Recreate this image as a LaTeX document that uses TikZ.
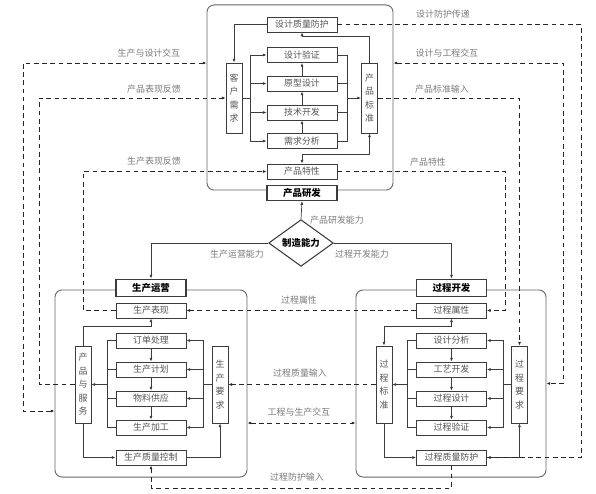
\documentclass[tikz,border=0pt]{standalone}
\usepackage{fontspec}
\setmainfont{Noto Sans CJK SC}
\usetikzlibrary{arrows.meta,shapes.geometric}
\definecolor{bxline}{HTML}{3C3C3C}
\definecolor{bxtext}{HTML}{555555}
\definecolor{lbtext}{HTML}{7A7A7A}

\begin{document}
\begin{tikzpicture}[x=0.85pt,y=-0.85pt,
  box/.style={draw=bxline, line width=0.7pt, fill=white, text=bxtext,
    font=\fontsize{7.6}{9}\selectfont, minimum width=59.5pt, minimum height=12.8pt, inner sep=0pt},
  vbox/.style={box, minimum width=13.6pt, minimum height=65.5pt, align=center,
    font=\fontsize{7.6}{11.5}\selectfont},
  title/.style={box, line width=1pt, text=black, font=\fontsize{8}{9}\bfseries\selectfont,
    minimum height=15pt},
  blk/.style={draw=gray!80!black, line width=0.8pt, rounded corners=6pt, inner sep=0pt},
  ln/.style={draw=bxline, line width=0.6pt},
  arr/.style={ln, -{Latex[length=3.2pt,width=2.6pt]}},
  barr/.style={ln, {Latex[length=3.2pt,width=2.6pt]}-{Latex[length=3.2pt,width=2.6pt]}},
  dln/.style={draw=black!85, line width=0.7pt, dash pattern=on 4pt off 3pt},
  darr/.style={dln, -{Latex[length=3.2pt,width=2.6pt]}},
  dbarr/.style={dln, {Latex[length=3.2pt,width=2.6pt]}-{Latex[length=3.2pt,width=2.6pt]}},
  lbl/.style={text=lbtext, font=\fontsize{7.6}{9}\selectfont, inner sep=0pt}]

  \useasboundingbox (0,0) rectangle (596,494);

  % 三个大框
  \node[blk, minimum width=158.1pt, minimum height=157.3pt] (topblk) at (300,97.5) {};
  \node[blk, minimum width=163.2pt, minimum height=159pt] (lblk) at (151,383.5) {};
  \node[blk, minimum width=161.5pt, minimum height=159pt] (rblk) at (451,383.5) {};

  % 产品研发
  \node[box] (zlfh) at (302,24.5) {设计质量防护};
  \node[box] (sjyz) at (302,55) {设计验证};
  \node[box] (yxsj) at (302,83.5) {原型设计};
  \node[box] (jskf) at (302,112.5) {技术开发};
  \node[box] (xqfx) at (302,141) {需求分析};
  \node[box] (cptx) at (302,171.5) {产品特性};
  \node[title, minimum height=12.8pt] (cpyf) at (302,193) {产品研发};
  \node[vbox, minimum height=59.5pt] (khxq) at (234,98) {客\\户\\需\\求};
  \node[vbox, minimum height=59.5pt] (cpbz) at (369.5,98) {产\\品\\标\\准};

  % 制造能力
  \node[draw=bxline, line width=0.9pt, diamond, fill=white, inner sep=0pt,
    minimum width=55pt, minimum height=31.5pt, font=\fontsize{8}{9}\bfseries\selectfont] (zhnl) at (301,243) {制造能力};

  % 生产运营
  \node[title] (scyy) at (151,288) {生产运营};
  \node[box] (sbxx) at (151,310.5) {生产表现};
  \node[box] (ddcl) at (151,340.5) {订单处理};
  \node[box] (scjh) at (151,369.5) {生产计划};
  \node[box] (wlgy) at (151,398.5) {物料供应};
  \node[box] (scjg) at (151,427.5) {生产加工};
  \node[box] (zlkz) at (151,457.5) {生产质量控制};
  \node[vbox] (cpfw) at (83,384.5) {产\\品\\与\\服\\务};
  \node[vbox] (scyq) at (220,384.5) {生\\产\\要\\求};

  % 过程开发
  \node[title] (gckf) at (451.5,288) {过程开发};
  \node[box] (gcsx) at (451.5,310.5) {过程属性};
  \node[box] (sjfx) at (451.5,340.5) {设计分析};
  \node[box] (gykf) at (451.5,369.5) {工艺开发};
  \node[box] (gcsj) at (451.5,398.5) {过程设计};
  \node[box] (gcyz) at (451.5,427.5) {过程验证};
  \node[box] (gczl) at (451.5,457.5) {过程质量防护};
  \node[vbox] (gcbz) at (384,384.5) {过\\程\\标\\准};
  \node[vbox] (gcyq) at (519.5,384.5) {过\\程\\要\\求};

  % 汇流点
  \coordinate (kbus) at (250,98);
  \coordinate (cbus) at (347,98);
  \coordinate (pbus) at (107,384.5);
  \coordinate (qbus) at (203,384.5);
  \coordinate (sbus) at (407,384.5);
  \coordinate (tbus) at (503,384.5);

  % 产品研发内部连线
  \draw[ln] (khxq) -- (kbus);
  \foreach \n in {sjyz,yxsj,jskf,xqfx} {
    \draw[arr] (kbus) |- (\n);
    \draw[ln] (\n.east) -| (cbus);
  }
  \draw[arr] (cbus) -- (cpbz);
  \draw[arr] (xqfx) -- (jskf);
  \draw[arr] (jskf) -- (yxsj);
  \draw[arr] (yxsj) -- (sjyz);
  \draw[arr] (cpbz.north) -- ++(0,-26) -| (zlfh.south);
  \draw[arr] (zlfh.west) -| (khxq.north);
  \draw[barr] (cpbz.south) -- ++(0,21) -| (cptx.north);

  % 制造能力连线
  \draw[arr] (zhnl.north) -- (cpyf.south);
  \draw[arr] (zhnl.west) -| (scyy.north);
  \draw[arr] (zhnl.east) -| (gckf.north);

  % 生产运营内部连线
  \draw[ln] (scyq) -- (qbus);
  \foreach \n in {ddcl,scjh,wlgy,scjg} {
    \draw[ln] (\n.west) -| (pbus);
    \draw[arr] (qbus) |- (\n);
  }
  \draw[arr] (pbus) -- (cpfw);
  \draw[arr] (ddcl) -- (scjh);
  \draw[arr] (scjh) -- (wlgy);
  \draw[arr] (wlgy) -- (scjg);
  \draw[arr] (cpfw.north) -- ++(0,-19) -| (sbxx.south);
  \draw[arr] (cpfw.south) |- (zlkz.west);
  \draw[arr] (zlkz.east) -| (scyq.south);

  % 过程开发内部连线
  \draw[ln] (gcyq) -- (tbus);
  \foreach \n in {sjfx,gykf,gcsj,gcyz} {
    \draw[ln] (\n.west) -| (sbus);
    \draw[arr] (tbus) |- (\n);
  }
  \draw[arr] (sbus) -- (gcbz);
  \draw[arr] (sjfx) -- (gykf);
  \draw[arr] (gykf) -- (gcsj);
  \draw[arr] (gcsj) -- (gcyz);
  \draw[barr] (gcbz.north) -- ++(0,-19) -| (gcsx.south);
  \draw[arr] (gcbz.south) |- (gczl.west);
  \draw[arr] (gczl.east) -| (gcyq.south);

  % 虚线
  \coordinate (d1a) at (23,411);
  \coordinate (d1) at (23,63);
  \coordinate (d2) at (39,98);
  \coordinate (d3) at (83,171.5);
  \coordinate (d4) at (581,24.5);
  \coordinate (d5) at (563,63);
  \coordinate (d7) at (505,171.5);
  \coordinate (d10) at (300,423);
  \coordinate (d11) at (451.5,488);
  \draw[dbarr] (d1a -| lblk.west) -- (d1a) -- (d1) -- (d1 -| topblk.west);
  \draw[darr] (cpfw.west) -| (d2) -- (khxq.west);
  \draw[darr] (sbxx.west) -| (d3) -- (cptx.west);
  \draw[darr] (zlfh.east) -- (d4) |- (gczl.east);
  \draw[dbarr] (d5 -| topblk.east) -- (d5) |- (rblk.east);
  \draw[darr] (cpbz.east) -| (gcyq.north);
  \draw[darr] (cptx.east) -- (d7) |- (gcsx.east);
  \draw[darr] (gcsx.west) -- (sbxx.east);
  \draw[darr] (gcbz.west) -- (scyq.east);
  \draw[dbarr] (d10 -| lblk.east) -- (d10 -| rblk.west);
  \draw[darr] (gczl.south) -- (d11) -| (zlkz.south);

  % 标注
  \node[lbl] (l1) at (149,53) {生产与设计交互};
  \node[lbl] (l2) at (154,89) {产品表现反馈};
  \node[lbl] (l3) at (154,161) {生产表现反馈};
  \node[lbl] (l4) at (443,14) {设计防护传递};
  \node[lbl] (l5) at (447,53) {设计与工程交互};
  \node[lbl] (l6) at (442,89) {产品标准输入};
  \node[lbl] (l7) at (428,162) {产品特性};
  \node[lbl] (l8) at (337,220) {产品研发能力};
  \node[lbl] (l9) at (237,254) {生产运营能力};
  \node[lbl] (l10) at (362,254) {过程开发能力};
  \node[lbl] (l11) at (299,300) {过程属性};
  \node[lbl] (l12) at (300,373) {过程质量输入};
  \node[lbl] (l13) at (299,412) {工程与生产交互};
  \node[lbl] (l14) at (297,477) {过程防护输入};
\end{tikzpicture}
\end{document}
